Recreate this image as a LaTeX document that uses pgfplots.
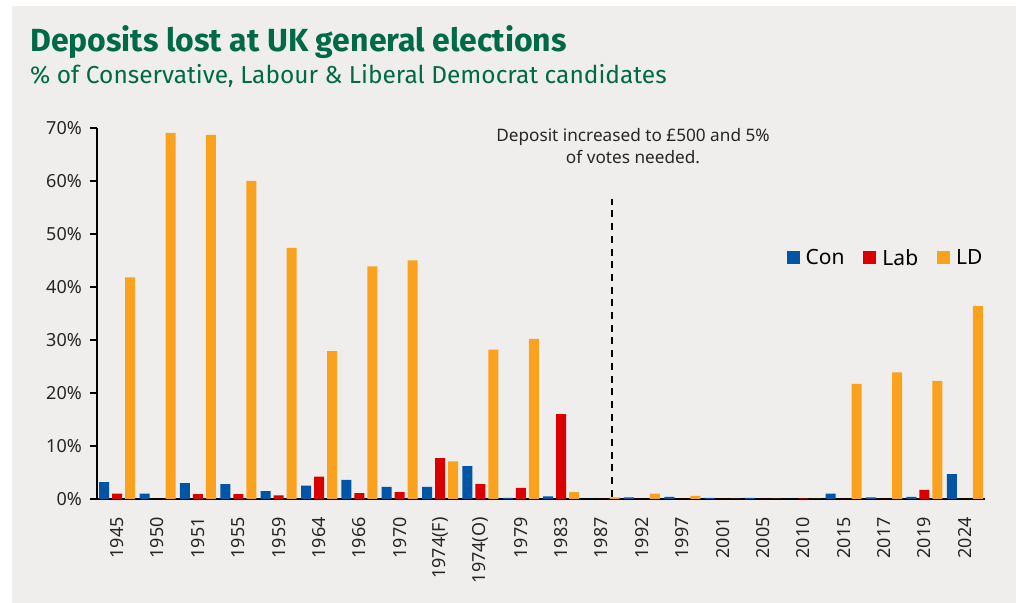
\documentclass[border=0pt]{standalone}
\usepackage{fontspec}
\setmainfont{Noto Sans}
\newfontfamily\titlefont{Fira Sans}
\usepackage{pgfplots}
\usepackage{pgfplotstable}
\pgfplotsset{compat=1.18}
\definecolor{bg}{RGB}{239,238,236}
\definecolor{tgreen}{RGB}{0,106,72}
\definecolor{con}{RGB}{0,85,165}
\definecolor{lab}{RGB}{218,0,0}
\definecolor{ld}{RGB}{250,162,30}
\pgfplotstableread{
idx con lab ld
0 3.2 1.0 41.8
1 1.0 0 69.1
2 3.0 0.9 68.7
3 2.8 0.9 60.0
4 1.5 0.7 47.4
5 2.5 4.2 27.9
6 3.6 1.1 43.9
7 2.3 1.3 45.0
8 2.3 7.7 7.1
9 6.2 2.8 28.2
10 0.2 2.1 30.2
11 0.5 16.0 1.3
12 0 0 0.3
13 0.3 0 1.0
14 0.4 0 0.6
15 0.2 0 0
16 0.2 0 0
17 0 0.1 0
18 1.0 0 21.7
19 0.3 0 23.9
20 0.4 1.7 22.3
21 4.7 0 36.4
}\deposits
\begin{document}
\begin{tikzpicture}
\fill[white] (0,0) rectangle (1016bp,603bp);
\fill[bg] (12bp,0) rectangle (1016bp,597bp);
\node[anchor=base west, inner sep=0pt, text=tgreen, font=\titlefont\bfseries\fontsize{32bp}{38bp}\selectfont] at (30bp,551bp) {Deposits lost at UK general elections};
\node[anchor=base west, inner sep=0pt, text=tgreen, font=\titlefont\fontsize{24.5bp}{28bp}\selectfont] at (30bp,519bp) {\% of Conservative, Labour \& Liberal Democrat candidates};
\begin{axis}[
  at={(97bp,104bp)}, anchor=south west,
  scale only axis, width=888bp, height=371bp,
  xmin=-0.5, xmax=21.5, ymin=0, ymax=70,
  axis lines=left, axis line style={-, line width=1.6bp, black},
  xtick=data,
  xticklabels={1945,1950,1951,1955,1959,1964,1966,1970,1974(F),1974(O),1979,1983,1987,1992,1997,2001,2005,2010,2015,2017,2019,2024},
  x tick label style={rotate=90, anchor=east, inner sep=0pt, yshift=0bp},
  xticklabel shift=11bp,
  major x tick style={draw=none},
  ytick={0,10,...,70},
  yticklabel={\pgfmathprintnumber{\tick}\%},
  /pgf/number format/assume math mode=true,
  y tick label style={inner sep=0pt},
  yticklabel shift=8bp,
  tick align=outside,
  major tick length=7bp,
  major y tick style={line width=1.4bp, black},
  tick label style={font=\fontsize{18bp}{22bp}\selectfont, text=black!85},
  legend style={draw=none, fill=none, at={(axis description cs:1.003,0.65)}, anchor=east,
    font=\fontsize{21bp}{24bp}\selectfont, legend columns=3,
    /tikz/every odd column/.append style={column sep=4bp},
    /tikz/every even column/.append style={column sep=17bp}},
  legend image code/.code={\fill[#1] (0bp,-6.5bp) rectangle (13bp,6.5bp);},
  clip=false,
]
\addplot[ybar, bar width=10bp, bar shift=-13bp, fill=con, draw=none] table[x=idx,y=con] {\deposits};
\addlegendentry{Con}
\addplot[ybar, bar width=10bp, bar shift=0bp, fill=lab, draw=none] table[x=idx,y=lab] {\deposits};
\addlegendentry{Lab}
\addplot[ybar, bar width=10bp, bar shift=13bp, fill=ld, draw=none] table[x=idx,y=ld] {\deposits};
\addlegendentry{LD}
\draw[black, line width=1.8bp, dash pattern=on 7bp off 5.7bp] (axis cs:12.25,0.4) -- (axis cs:12.25,56.6);
\end{axis}
\node[anchor=base, inner sep=0pt, font=\fontsize{17.2bp}{20bp}\selectfont, text=black!85] at (633bp,461bp) {Deposit increased to £500 and 5\%};
\node[anchor=base, inner sep=0pt, font=\fontsize{17.2bp}{20bp}\selectfont, text=black!85] at (633bp,439bp) {of votes needed.};
\end{tikzpicture}
\end{document}
